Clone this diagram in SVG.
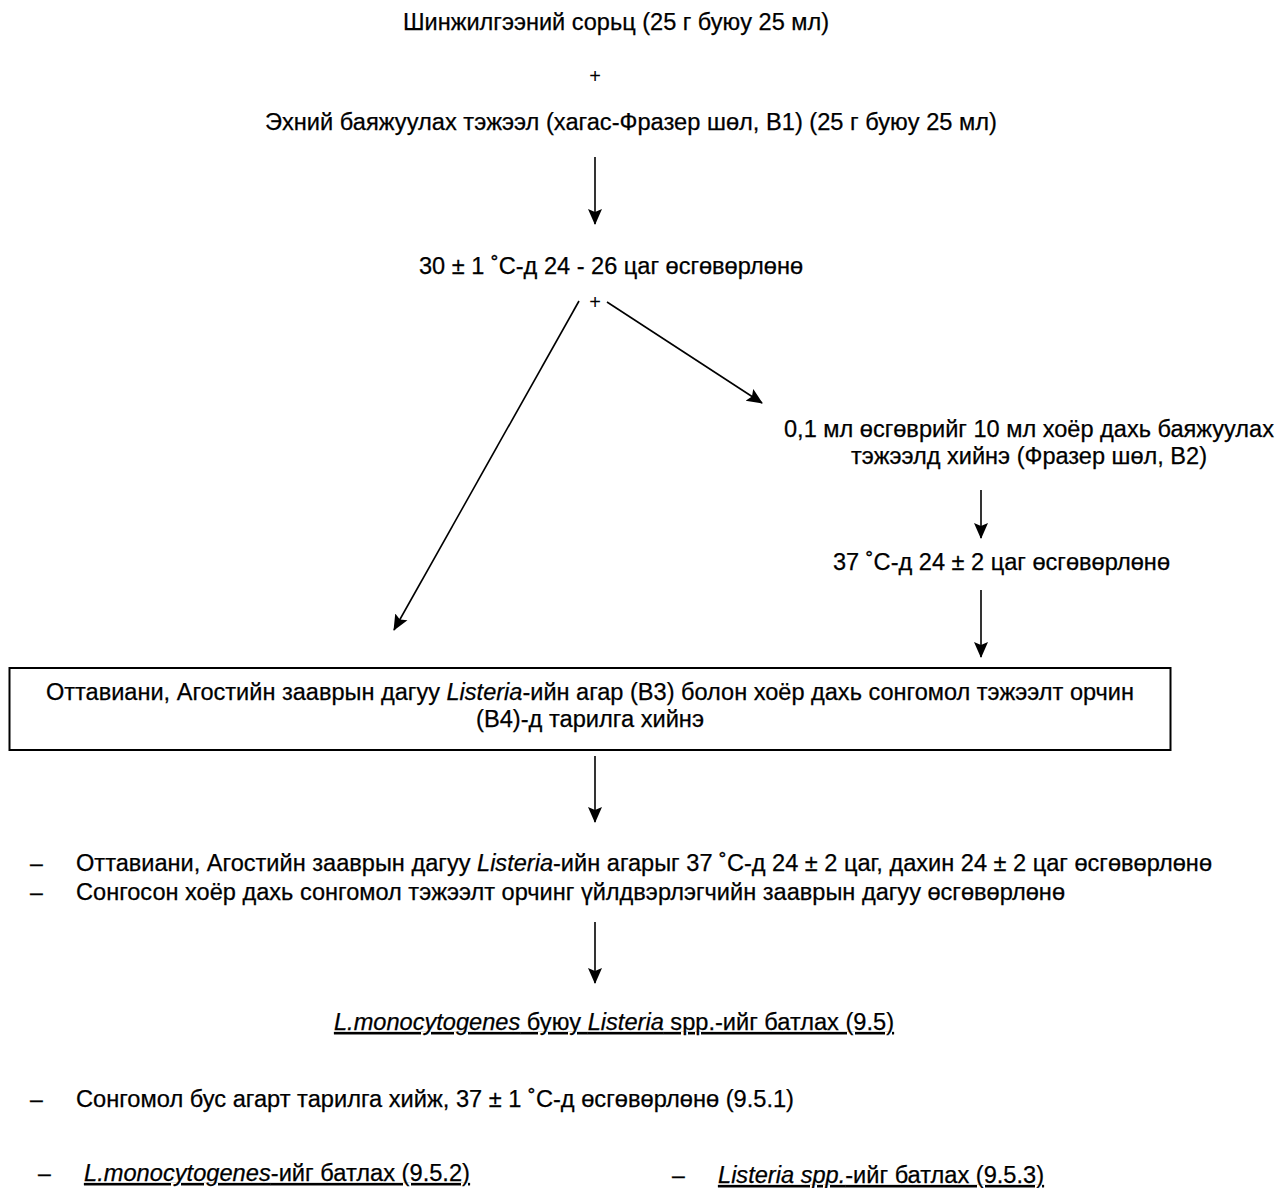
<svg xmlns="http://www.w3.org/2000/svg" width="1278" height="1188" viewBox="0 0 1278 1188">
<style>
text{font-family:"Liberation Sans",Arial,sans-serif;font-size:23px;fill:#000;stroke:#000;stroke-width:0.25}
.c{text-anchor:middle}
.plus{font-size:20px;stroke-width:0}
.i{font-style:italic}
.u{text-decoration:underline}
.ln{stroke:#000;stroke-width:1.6;fill:none}
</style>
<defs>
<marker id="ahb" markerWidth="16" markerHeight="16" refX="15" refY="8" orient="auto" markerUnits="userSpaceOnUse" viewBox="0 0 16 16">
<path d="M0,1 L16,8 L0,15 L3,8 z" fill="#000"/>
</marker>
</defs>
<rect width="1278" height="1188" fill="#fff"/>
<g id="sample"><text x="403" y="30" textLength="426" lengthAdjust="spacingAndGlyphs">Шинжилгээний сорьц (25 г буюу 25 мл)</text></g>
<g id="plus1"><text class="c plus" x="595" y="83">+</text></g>
<g id="medium1"><text x="265" y="130" textLength="732" lengthAdjust="spacingAndGlyphs">Эхний баяжуулах тэжээл (хагас-Фразер шөл, В1) (25 г буюу 25 мл)</text></g>
<g id="incub1"><text x="419" y="274" textLength="384" lengthAdjust="spacingAndGlyphs">30 ± 1 ˚С-д 24 - 26 цаг өсгөвөрлөнө</text></g>
<g id="plus2"><text class="c plus" x="595" y="309">+</text></g>
<g id="medium2">
<text x="784" y="437" textLength="490" lengthAdjust="spacingAndGlyphs">0,1 мл өсгөврийг 10 мл хоёр дахь баяжуулах</text>
<text x="851" y="464" textLength="356" lengthAdjust="spacingAndGlyphs">тэжээлд хийнэ (Фразер шөл, В2)</text>
</g>
<g id="incub2"><text x="833" y="570" textLength="337" lengthAdjust="spacingAndGlyphs">37 ˚С-д 24 ± 2 цаг өсгөвөрлөнө</text></g>
<g id="plating">
<rect x="9.5" y="668" width="1161" height="82" fill="none" stroke="#000" stroke-width="2"/>
<text x="46" y="700" textLength="1088" lengthAdjust="spacingAndGlyphs">Оттавиани, Агостийн зааврын дагуу <tspan class="i">Listeria</tspan>-ийн агар (В3) болон хоёр дахь сонгомол тэжээлт орчин</text>
<text x="476" y="727" textLength="228" lengthAdjust="spacingAndGlyphs">(В4)-д тарилга хийнэ</text>
</g>
<g id="incub3">
<text x="30" y="871">–</text>
<text x="76" y="871" textLength="1136" lengthAdjust="spacingAndGlyphs">Оттавиани, Агостийн зааврын дагуу <tspan class="i">Listeria</tspan>-ийн агарыг 37 ˚С-д 24 ± 2 цаг, дахин 24 ± 2 цаг өсгөвөрлөнө</text>
<text x="30" y="900">–</text>
<text x="76" y="900" textLength="989" lengthAdjust="spacingAndGlyphs">Сонгосон хоёр дахь сонгомол тэжээлт орчинг үйлдвэрлэгчийн зааврын дагуу өсгөвөрлөнө</text>
</g>
<g id="confirm"><text class="u" x="334" y="1030" textLength="560" lengthAdjust="spacingAndGlyphs"><tspan class="i">L.monocytogenes</tspan> буюу <tspan class="i">Listeria</tspan> spp.-ийг батлах (9.5)</text></g>
<g id="nonselective">
<text x="30" y="1107">–</text>
<text x="76" y="1107" textLength="718" lengthAdjust="spacingAndGlyphs">Сонгомол бус агарт тарилга хийж, 37 ± 1 ˚С-д өсгөвөрлөнө (9.5.1)</text>
</g>
<g id="lmono">
<text x="38" y="1181">–</text>
<text class="u" x="84" y="1181" textLength="386" lengthAdjust="spacingAndGlyphs"><tspan class="i">L.monocytogenes</tspan>-ийг батлах (9.5.2)</text>
</g>
<g id="lspp">
<text x="672" y="1183">–</text>
<text class="u" x="718" y="1183" textLength="326" lengthAdjust="spacingAndGlyphs"><tspan class="i">Listeria spp.</tspan>-ийг батлах (9.5.3)</text>
</g>
<g id="connectors">
<line class="ln" x1="595" y1="157" x2="595" y2="224" marker-end="url(#ahb)"/>
<line class="ln" x1="579" y1="301" x2="394" y2="630" marker-end="url(#ahb)"/>
<line class="ln" x1="607" y1="302" x2="762" y2="403" marker-end="url(#ahb)"/>
<line class="ln" x1="981" y1="490" x2="981" y2="538" marker-end="url(#ahb)"/>
<line class="ln" x1="981" y1="590" x2="981" y2="657" marker-end="url(#ahb)"/>
<line class="ln" x1="595" y1="756" x2="595" y2="822" marker-end="url(#ahb)"/>
<line class="ln" x1="595" y1="922" x2="595" y2="983" marker-end="url(#ahb)"/>
</g>
</svg>
